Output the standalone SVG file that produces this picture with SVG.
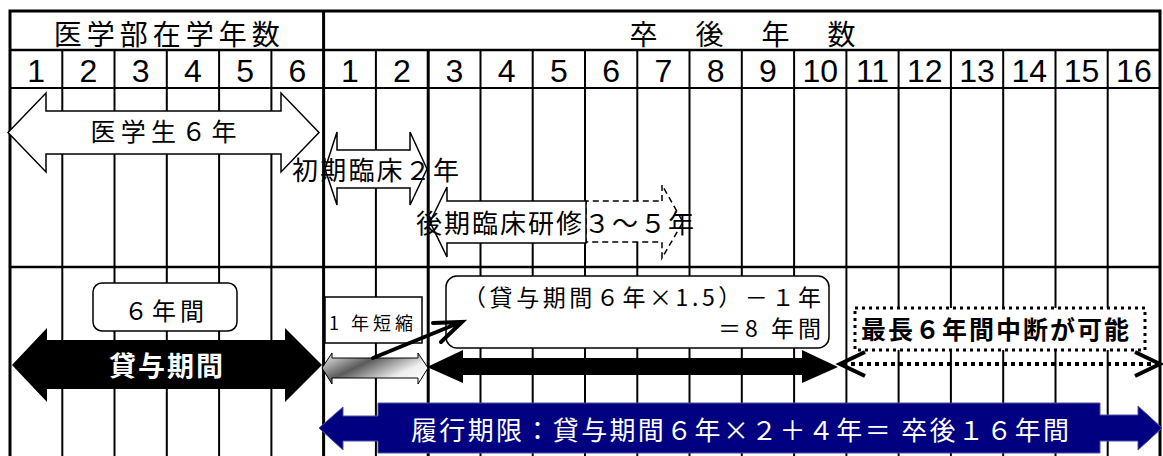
<svg xmlns="http://www.w3.org/2000/svg" width="1163" height="456" viewBox="0 0 1163 456">
<style>
.bg{fill:#fff}
.g{stroke:#000;stroke-width:2;fill:none}
.t{stroke:#000;stroke-width:3;fill:none}
.num{font-family:"Liberation Sans",Arial,sans-serif;font-size:32px;text-anchor:middle;fill:#000}
.jp{font-family:"Noto Sans CJK JP","Noto Sans CJK SC",sans-serif;fill:#000}
.hollow{fill:#fff;stroke:#000;stroke-width:1.5;stroke-linejoin:miter}
.box{fill:#fff;stroke:#000;stroke-width:1.5}
</style>
<defs>
<linearGradient id="grad" x1="0" y1="0.2" x2="1" y2="0.8">
<stop offset="0" stop-color="#d8d8d8"/>
<stop offset="0.35" stop-color="#5a5a5a"/>
<stop offset="0.75" stop-color="#eeeeee"/>
<stop offset="1" stop-color="#ffffff"/>
</linearGradient>
</defs>
<rect class="bg" x="0" y="0" width="1163" height="456"/>
<g id="grid">
<path class="g" d="M62.3,50V456M114.5,50V456M166.8,50V456M219.1,50V456M271.4,50V456M375.9,50V456M480.5,50V456M532.7,50V456M585,50V456M637.3,50V456M689.5,50V456M741.8,50V456M794.1,50V456M846.4,50V456M898.6,50V456M950.9,50V456M1003.2,50V456M1055.5,50V456M1107.7,50V456"/>
<path class="t" d="M10,11V456M323.6,11V456M428.2,50V456M1160,11V456M8.5,11H1161.5"/>
<path class="g" d="M10,50H1160" style="stroke-width:2.5"/>
<path class="g" d="M10,88H1160"/>
<path class="g" d="M10,267H1160" style="stroke-width:2.5"/>
</g>
<g id="headers">
<text class="jp" x="166.8" y="44.6" font-size="28" text-anchor="middle" textLength="226" lengthAdjust="spacing">医学部在学年数</text>
<text class="jp" x="742.5" y="44.6" font-size="28" text-anchor="middle" textLength="226" lengthAdjust="spacing">卒 後 年 数</text>
</g>
<g id="year-numbers" class="num">
<text x="36.1" y="82">1</text><text x="88.4" y="82">2</text><text x="140.7" y="82">3</text><text x="193" y="82">4</text><text x="245.2" y="82">5</text><text x="297.5" y="82">6</text>
<text x="349.8" y="82">1</text><text x="402" y="82">2</text><text x="454.3" y="82">3</text><text x="506.6" y="82">4</text><text x="558.9" y="82">5</text><text x="611.1" y="82">6</text><text x="663.4" y="82">7</text><text x="715.7" y="82">8</text><text x="768" y="82">9</text><text x="820.2" y="82">10</text><text x="872.5" y="82">11</text><text x="924.8" y="82">12</text><text x="977" y="82">13</text><text x="1029.3" y="82">14</text><text x="1081.6" y="82">15</text><text x="1133.9" y="82">16</text>
</g>
<g id="node-igakusei">
<path class="hollow" d="M8,132.5L46,93V111H281V93L319,132.5L281,172V154H46V172Z"/>
<text class="jp" x="163.5" y="141" font-size="25" text-anchor="middle" textLength="146" lengthAdjust="spacing">医学生６年</text>
</g>
<g id="node-shoki">
<path class="hollow" d="M325,169L337,132V150H410V132L427,169L410,205V188H337V205Z"/>
<text class="jp" x="375.5" y="180.4" font-size="26" text-anchor="middle" textLength="167" lengthAdjust="spacing">初期臨床２年</text>
</g>
<g id="node-koki">
<path class="hollow" d="M662,201V185L683,222L662,258V242H586V201Z" style="stroke-dasharray:6,4"/>
<path class="hollow" d="M586,201H447V187L430,222L447,257V243H586Z"/>
<text class="jp" x="416" y="233.4" font-size="26" textLength="278" lengthAdjust="spacing">後期臨床研修３～５年</text>
</g>
<g id="node-6nenkan">
<rect class="box" x="93" y="283" width="144" height="48" rx="9"/>
<text class="jp" x="164" y="320" font-size="24" text-anchor="middle" textLength="80" lengthAdjust="spacing">６年間</text>
</g>
<g id="node-taiyo">
<path d="M12,365L47,328V340H285V328L322,365L285,402V389H47V402Z" fill="#000"/>
<text class="jp" x="166" y="376" font-size="27" font-weight="bold" fill="#fff" style="fill:#fff" text-anchor="middle" textLength="114" lengthAdjust="spacing">貸与期間</text>
</g>
<g id="node-tanshuku">
<rect class="box" x="325" y="297" width="97" height="46"/>
<text class="jp" x="329" y="330.3" font-size="18" textLength="84" lengthAdjust="spacing">1 年短縮</text>
<path d="M322,368L332,353V358H418V353L428,368L418,384V378H332V384Z" fill="url(#grad)" stroke="#000" stroke-width="1"/>
</g>
<g id="node-formula">
<rect class="box" x="446" y="276" width="383" height="72" rx="11"/>
<text class="jp" x="821" y="306.2" font-size="23" text-anchor="end" textLength="358" lengthAdjust="spacing">（貸与期間６年×1.5）－１年</text>
<text class="jp" x="821" y="337.2" font-size="23" text-anchor="end" textLength="103" lengthAdjust="spacing">＝8 年間</text>
</g>
<g id="node-8nen">
<path d="M427,367L463,350V358H802V350L838,367L802,383V375H463V383Z" fill="#000"/>
</g>
<g id="node-chudan">
<rect x="855" y="308" width="290" height="42" fill="#fff" stroke="#000" stroke-width="3" stroke-dasharray="3,4"/>
<text class="jp" x="995" y="338.5" font-size="25" font-weight="bold" text-anchor="middle" textLength="268" lengthAdjust="spacing">最長６年間中断が可能</text>
<path d="M843,364H1157" stroke="#000" stroke-width="4" stroke-dasharray="4,4" fill="none"/>
<path d="M865,352L840,364L865,376M1135,352L1160,364L1135,376" stroke="#000" stroke-width="4" fill="none"/>
</g>
<g id="node-rikou">
<path d="M319,428L343,407V416H378V403H1100V415H1138V406L1162,428L1138,450V441H1100V453H378V441H343V450Z" fill="#000080" stroke="#5050a0" stroke-width="1"/>
<text class="jp" x="411" y="440" font-size="26" fill="#fff" style="fill:#fff" textLength="658" lengthAdjust="spacing">履行期限：貸与期間６年×２＋４年＝ 卒後１６年間</text>
</g>
<g id="connectors">
<path d="M373,358L461,322M433,323L462,322L441,342" stroke="#000" stroke-width="4" fill="none" stroke-linecap="round" stroke-linejoin="miter"/>
</g>
</svg>
